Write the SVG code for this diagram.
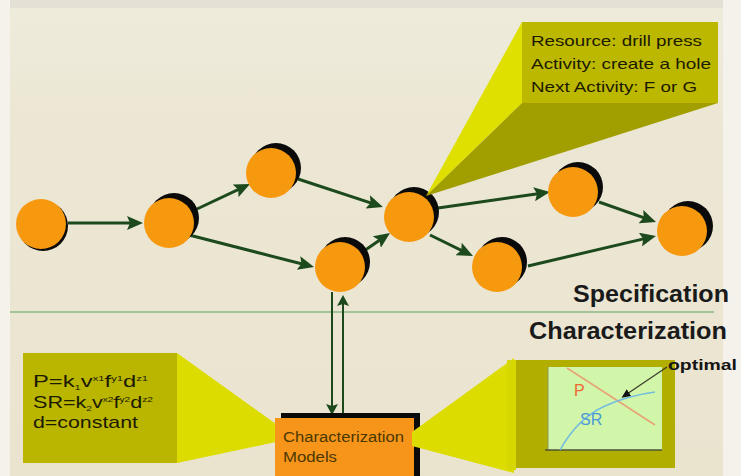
<svg xmlns="http://www.w3.org/2000/svg" width="741" height="476" viewBox="0 0 741 476">
<defs>
<linearGradient id="bg" x1="0" y1="0" x2="0" y2="1">
<stop offset="0" stop-color="#efebdb"/>
<stop offset="0.25" stop-color="#ece7d4"/>
<stop offset="1" stop-color="#eae4cf"/>
</linearGradient>
<marker id="ah" markerUnits="userSpaceOnUse" markerWidth="16" markerHeight="14" refX="11" refY="7" orient="auto">
<path d="M0,0 L16,7 L0,14 L3,7 z" fill="#1d4a1d"/>
</marker>
<marker id="ah2" markerUnits="userSpaceOnUse" markerWidth="11" markerHeight="12" refX="7" refY="6" orient="auto">
<path d="M0,0 L11,6 L0,12 L2,6 z" fill="#1d4a1d"/>
</marker>
<marker id="ahb" markerUnits="userSpaceOnUse" markerWidth="9" markerHeight="8" refX="6" refY="4" orient="auto">
<path d="M0,0 L9,4 L0,8 z" fill="#111"/>
</marker>
</defs>
<style>
.shadow{fill:#0a0a0a}
.node{fill:#f7990e}
.edge{stroke:#1d4a1d;stroke-width:3;fill:none;marker-end:url(#ah)}
.vedge{stroke:#1d4a1d;stroke-width:2;fill:none;marker-end:url(#ah2)}
.ct{font-family:"Liberation Sans",Arial,sans-serif;font-size:15px;fill:#1c1a00}
.ft{font-family:"Liberation Sans",Arial,sans-serif;font-size:17px;fill:#1c1a00}
.sub{font-size:8px}
.big{font-family:"Liberation Sans",Arial,sans-serif;font-weight:bold;font-size:24px;fill:#1a1a1a}
</style>

<!-- background -->
<rect x="0" y="0" width="741" height="476" fill="#f4f2ea"/>
<rect x="10" y="8" width="713" height="468" fill="url(#bg)"/>
<rect x="10" y="0" width="713" height="8" fill="#e4e0d6"/>

<!-- divider -->
<line x1="10" y1="312" x2="714" y2="312" stroke="#5f9f5f" stroke-width="1.2"/>

<!-- connectors -->
<g id="connectors">
<line class="edge" x1="68" y1="223" x2="138" y2="223"/>
<line class="edge" x1="197" y1="209" x2="245.5" y2="186.1"/>
<line class="edge" x1="298" y1="179" x2="378.2" y2="205.4"/>
<line class="edge" x1="189" y1="235" x2="309.2" y2="265.8"/>
<line class="edge" x1="364" y1="251" x2="385.9" y2="235.8"/>
<line class="edge" x1="438" y1="208" x2="545" y2="192.7"/>
<line class="edge" x1="430" y1="235" x2="468.5" y2="253.8"/>
<line class="edge" x1="599" y1="202" x2="651.3" y2="220.3"/>
<line class="edge" x1="528" y1="266" x2="651.1" y2="237.1"/>
<line class="vedge" x1="332" y1="292" x2="332" y2="411"/>
<line class="vedge" x1="343" y1="416" x2="343" y2="299"/>
</g>

<!-- nodes -->
<g id="node-a"><circle class="shadow" cx="43" cy="226" r="25"/><circle class="node" cx="41" cy="224" r="25"/></g>
<g id="node-b"><circle class="shadow" cx="174" cy="218" r="25"/><circle class="node" cx="169" cy="223" r="25"/></g>
<g id="node-c"><circle class="shadow" cx="276" cy="168" r="25"/><circle class="node" cx="271" cy="173" r="25"/></g>
<g id="node-d"><circle class="shadow" cx="345" cy="262" r="25"/><circle class="node" cx="340" cy="267" r="25"/></g>
<g id="node-e"><circle class="shadow" cx="414" cy="212" r="25"/><circle class="node" cx="409" cy="217" r="25"/></g>
<g id="node-f"><circle class="shadow" cx="578" cy="187" r="25"/><circle class="node" cx="573" cy="192" r="25"/></g>
<g id="node-g"><circle class="shadow" cx="502" cy="262" r="25"/><circle class="node" cx="497" cy="267" r="25"/></g>
<g id="node-h"><circle class="shadow" cx="688" cy="226" r="25"/><circle class="node" cx="682" cy="231" r="25"/></g>

<!-- top-right callout -->
<g id="callout-resource">
<polygon points="522,22 522,103 426,196" fill="#e0e000"/>
<polygon points="522,103 718,103 426,196" fill="#a19e00"/>
<rect x="522" y="22" width="196" height="81" fill="#bcb800"/>
<text class="ct" x="531" y="46" textLength="171" lengthAdjust="spacingAndGlyphs">Resource: drill press</text>
<text class="ct" x="531" y="69" textLength="180" lengthAdjust="spacingAndGlyphs">Activity: create a hole</text>
<text class="ct" x="531" y="92" textLength="166" lengthAdjust="spacingAndGlyphs">Next Activity: F or G</text>
</g>

<!-- labels -->
<text class="big" x="573" y="302" textLength="156" lengthAdjust="spacingAndGlyphs">Specification</text>
<text class="big" x="529" y="339" textLength="198" lengthAdjust="spacingAndGlyphs">Characterization</text>

<!-- bottom-left callout -->
<g id="callout-formula">
<polygon points="177,353 177,463 276,442 276,424" fill="#dcdc00"/>
<rect x="23" y="353" width="154" height="110" fill="#bab600"/>
<text class="ft" x="33" y="387" textLength="115" lengthAdjust="spacingAndGlyphs">P=k<tspan class="sub" dy="3">1</tspan><tspan dy="-3">v</tspan><tspan class="sub" dy="-6">x1</tspan><tspan dy="6">f</tspan><tspan class="sub" dy="-6">y1</tspan><tspan dy="6">d</tspan><tspan class="sub" dy="-6">z1</tspan></text>
<text class="ft" x="33" y="408" textLength="120" lengthAdjust="spacingAndGlyphs">SR=k<tspan class="sub" dy="3">2</tspan><tspan dy="-3">v</tspan><tspan class="sub" dy="-6">x2</tspan><tspan dy="6">f</tspan><tspan class="sub" dy="-6">y2</tspan><tspan dy="6">d</tspan><tspan class="sub" dy="-6">z2</tspan></text>
<text class="ft" x="33" y="428" textLength="105" lengthAdjust="spacingAndGlyphs">d=constant</text>
</g>

<!-- characterization models box -->
<g id="node-models">
<rect x="281" y="413" width="139" height="63" fill="#0a0a0a"/>
<rect x="275" y="418" width="139" height="58" fill="#f7951b"/>
<text x="283" y="442" font-family="Liberation Sans, Arial, sans-serif" font-size="14" fill="#4a3800" textLength="121" lengthAdjust="spacingAndGlyphs">Characterization</text>
<text x="283" y="462" font-family="Liberation Sans, Arial, sans-serif" font-size="14" fill="#4a3800" textLength="54" lengthAdjust="spacingAndGlyphs">Models</text>
</g>

<!-- bottom-right callout with chart -->
<g id="callout-chart">
<polygon points="412,432 514,358 514,473 412,446" fill="#dcdc00"/>
<rect x="507" y="360" width="168" height="108" fill="#b2ae00"/>
<rect x="507" y="360" width="9" height="110" fill="#d6d600"/>
<rect x="548" y="367" width="114" height="83" fill="#d1f5a9"/>
<line x1="548" y1="367" x2="548" y2="450" stroke="#8c9a5a" stroke-width="1"/>
<line x1="545" y1="450" x2="662" y2="450" stroke="#4c5538" stroke-width="1.6"/>
<line x1="567" y1="368" x2="655" y2="425" stroke="#e9a277" stroke-width="1.5"/>
<path d="M560,450 C570,432 585,415 605,406 S640,394 655,392" fill="none" stroke="#72bde0" stroke-width="1.5"/>
<text x="574" y="396" font-family="Liberation Sans, Arial, sans-serif" font-size="16" fill="#ee6a32">P</text>
<text x="580" y="425" font-family="Liberation Sans, Arial, sans-serif" font-size="16" fill="#4a98d6">SR</text>
<line x1="667" y1="367" x2="624" y2="396" stroke="#3a3a2a" stroke-width="1.2" marker-end="url(#ahb)"/>
<text x="668" y="370" font-family="Liberation Sans, Arial, sans-serif" font-weight="bold" font-size="15" fill="#151515" textLength="69" lengthAdjust="spacingAndGlyphs">optimal</text>
</g>
</svg>
